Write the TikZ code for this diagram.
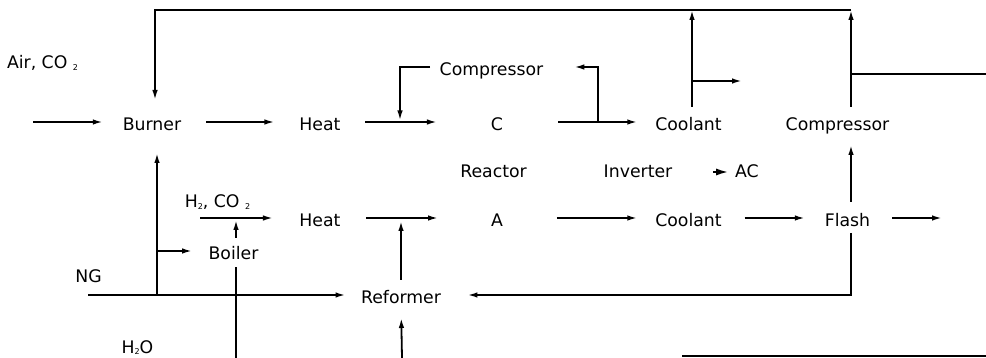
\documentclass[tikz,border=0pt]{standalone}
\usepackage{fontspec}
\setmainfont{DejaVu Sans}
\usetikzlibrary{arrows.meta}
\newcommand{\lowsub}[1]{\raisebox{-1.5pt}{\fontsize{8}{8}\selectfont #1}}
\begin{document}
\begin{tikzpicture}[x=1pt,y=-1pt,
  lbl/.style={inner sep=0pt, outer sep=0pt, text height=18pt, text depth=0pt, font=\fontsize{17.3}{20}\selectfont},
  flow/.style={line width=1.8pt},
  arr/.style={flow, -{Latex[length=10pt,width=5.5pt]}},
  sl/.style={shorten <=#1pt},
  sr/.style={shorten >=#1pt}]
\useasboundingbox (0,0) rectangle (986,358);
% nodes
\node[lbl,anchor=west] (air) at (7,60) {Air, CO \lowsub{2}};
\node[lbl] (burner) at (152,122) {Burner};
\node[lbl] (heat1) at (320,122) {Heat};
\node[lbl] (c) at (497,122) {C};
\node[lbl] (compTop) at (491.5,67) {Compressor};
\node[lbl] (coolant1) at (688.5,122) {Coolant};
\node[lbl] (comp2) at (837.5,122) {Compressor};
\node[lbl] (reactor) at (493.5,169) {Reactor};
\node[lbl] (inverter) at (638,169) {Inverter};
\node[lbl] (ac) at (747,169) {AC};
\node[lbl] (h2co2) at (217.5,199) {H\lowsub{2}, CO \lowsub{2}};
\node[lbl] (heat2) at (320,218) {Heat};
\node[lbl] (a) at (497,218) {A};
\node[lbl] (coolant2) at (688.5,218) {Coolant};
\node[lbl] (flash) at (847.5,218) {Flash};
\node[lbl] (boiler) at (233.5,251) {Boiler};
\node[lbl] (ng) at (88.5,274) {NG};
\node[lbl] (reformer) at (401,295) {Reformer};
\node[lbl] (h2o) at (137.5,344) {H\lowsub{2}O};
% coordinates
\coordinate (airIn) at (33,122);
\coordinate (jC1) at (400,122);
\coordinate (jC2) at (598,122);
\coordinate (colC) at (692,10);
\coordinate (jCo) at (692,81);
\coordinate (coolOut) at (742,81);
\coordinate (colF) at (851,10);
\coordinate (jR) at (851,74);
\coordinate (rOut) at (986,74);
\coordinate (topL) at (155,10);
\coordinate (fOut) at (942,218);
\coordinate (h2In) at (200,218);
\coordinate (jHA) at (401,218);
\coordinate (jH2) at (236,218);
\coordinate (wIn) at (236,358);
\coordinate (ngIn) at (88,295);
\coordinate (jNG) at (157,295);
\coordinate (jB) at (157,251);
\coordinate (refIn) at (402,358);
\coordinate (bL) at (682,356);
\coordinate (bR) at (986,356);
% connectors
\draw[arr,sr=20] (airIn) -- (burner.west);
\draw[arr,sl=25,sr=25] (burner.east) -- (heat1.west);
\draw[arr,sl=24.5,sr=54] (heat1.east) -- (c.west);
\draw[arr,sl=9.5,sr=1.5] (compTop.west) -| (jC1);
\draw[arr,sr=31] (jC2) |- (compTop.east);
\draw[arr,sl=55,sr=18] (c.east) -- (coolant1.west);
\draw[arr,sl=6] (coolant1.north -| colC) -- (colC);
\draw[arr] (jCo) -- (coolOut);
\draw[arr,sl=6] (comp2.north -| colF) -- (colF);
\draw[arr,sr=13] (colF) -- (topL) -- (burner.north -| topL);
\draw[flow] (jR) -- (rOut);
\draw[arr,sl=7,sr=14] (flash.north -| colF) -- (comp2.south -| colF);
\draw[arr,sl=6,sr=26.5] (flash.south -| colF) |- (reformer.east);
\draw[arr,sl=22] (flash.east) -- (fOut);
\draw[arr,sl=23,sr=20] (coolant2.east) -- (flash.west);
\draw[arr,sl=54,sr=18] (a.east) -- (coolant2.west);
\draw[arr,sl=25.5,sr=53] (heat2.east) -- (a.west);
\draw[arr,sl=6,sr=3] (reformer.north) -- (jHA);
\draw[arr,sr=26.5] (h2In) -- (heat2.west);
\draw[arr,sl=4,sr=2] (boiler.north -| jH2) -- (jH2);
\draw[flow,sr=7] (wIn) -- (boiler.south -| wIn);
\draw[arr,sr=15.5] (ngIn) -- (reformer.west);
\draw[arr,sr=22] (jNG) -- (burner.south -| jNG);
\draw[arr,sr=16.5] (jB) -- (boiler.west);
\draw[arr,sr=14] (refIn) -- (reformer.south);
\draw[flow,-{Latex[length=12pt,width=7pt]}] ([xshift=-22pt,yshift=-3pt]ac.west) -- ([xshift=-7pt,yshift=-3pt]ac.west);
\draw[flow] (bL) -- (bR);
\end{tikzpicture}
\end{document}
